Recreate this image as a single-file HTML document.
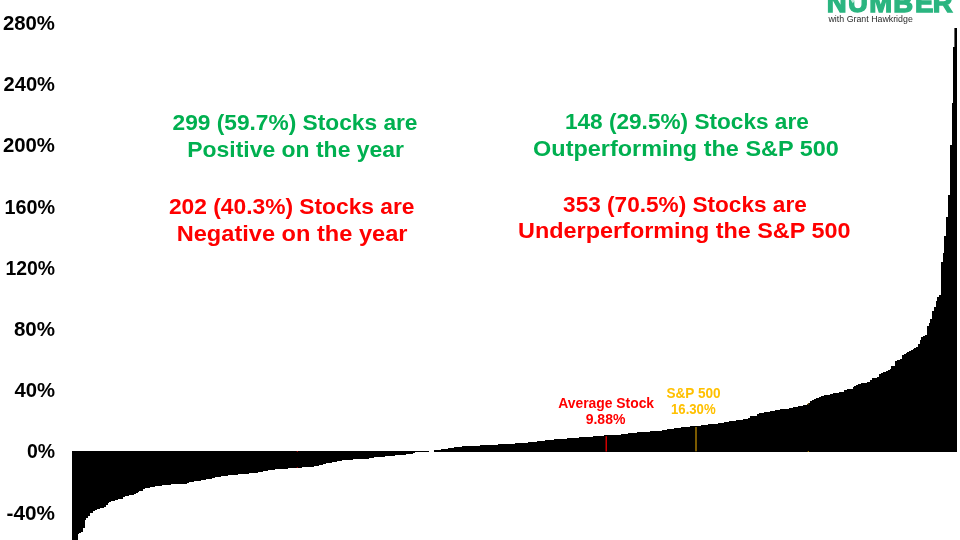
<!DOCTYPE html>
<html lang="en">
<head>
<meta charset="utf-8">
<title>S&amp;P 500 stock performance distribution</title>
<style>
html,body{margin:0;padding:0;background:#fff;}
body{width:960px;height:540px;overflow:hidden;position:relative;font-family:'Liberation Sans', sans-serif;}
svg{position:absolute;left:0;top:0;display:block;}
text{font-family:'Liberation Sans', sans-serif;font-weight:700;}
.ax{font-size:20.5px;fill:#000;}
.big{font-size:22.5px;}
.sm{font-size:14px;}
.g{fill:#00b050;}
.r{fill:#ff0000;}
.o{fill:#ffc000;}
.logo{font-size:27.5px;fill:#2bb580;stroke:#2bb580;stroke-width:1.4px;stroke-linejoin:miter;}
.sub{font-size:8.7px;font-weight:400;fill:#2a2a2a;}
</style>
</head>
<body>
<svg width="960" height="540" viewBox="0 0 960 540">
<rect x="0" y="0" width="960" height="540" fill="#fff"/>
<g id="bars" fill="#000" shape-rendering="crispEdges">
<path d="M72.20 451V541.0H73.97V541.0H75.73V541.0H77.50V533.6H79.26V532.7H81.03V532.0H82.79V528.2H84.56V520.1H86.33V518.0H88.09V515.6H89.86V513.4H91.62V513.0H93.39V511.2H95.15V509.6H96.92V509.1H98.69V508.6H100.45V508.1H102.22V507.6H103.98V507.0H105.75V504.8H107.51V502.8H109.28V501.9H111.04V501.0H112.81V500.6H114.58V500.2H116.34V499.8H118.11V499.4H119.87V499.0H121.64V498.6H123.40V497.2H125.17V496.2H126.94V495.8H128.70V495.4H130.47V495.0H132.23V494.6H134.00V493.8H135.76V493.1H137.53V492.3H139.30V491.4H141.06V490.5H142.83V488.8H144.59V488.1H146.36V487.8H148.12V487.5H149.89V487.2H151.66V486.9H153.42V486.6H155.19V486.3H156.95V486.1H158.72V485.8H160.48V485.6H162.25V485.3H164.01V485.1H165.78V484.8H167.55V484.6H169.31V484.5H171.08V484.4H172.84V484.3H174.61V484.2H176.37V484.1H178.14V484.0H179.91V483.9H181.67V483.8H183.44V483.7H185.20V483.6H186.97V483.1H188.73V482.2H190.50V481.8H192.27V481.5H194.03V481.3H195.80V481.0H197.56V480.7H199.33V480.5H201.09V480.2H202.86V479.9H204.63V479.6H206.39V479.3H208.16V479.0H209.92V478.5H211.69V478.1H213.45V477.6H215.22V477.2H216.98V476.9H218.75V476.6H220.52V476.3H222.28V476.0H224.05V475.7H225.81V475.5H227.58V475.2H229.34V475.0H231.11V474.9H232.88V474.7H234.64V474.6H236.41V474.5H238.17V474.4H239.94V474.2H241.70V474.1H243.47V474.0H245.24V473.8H247.00V473.6H248.77V473.4H250.53V473.2H252.30V473.0H254.06V472.7H255.83V472.5H257.60V472.2H259.36V472.0H261.13V471.6H262.89V471.3H264.66V471.0H266.42V470.6H268.19V470.3H269.95V470.0H271.72V469.7H273.49V469.5H275.25V469.4H277.02V469.2H278.78V469.1H280.55V469.0H282.31V468.9H284.08V468.7H285.85V468.5H287.61V468.2H289.38V468.0H291.14V467.8H292.91V467.7H294.67V467.7H296.44V467.6H298.21V467.5H299.97V467.5H301.74V467.4H303.50V467.4H305.27V467.3H307.03V467.2H308.80V467.1H310.57V466.9H312.33V466.6H314.10V466.3H315.86V466.0H317.63V465.5H319.39V465.0H321.16V464.5H322.92V464.1H324.69V463.7H326.46V463.3H328.22V463.0H329.99V462.6H331.75V462.3H333.52V461.9H335.28V461.6H337.05V461.3H338.82V460.9H340.58V460.6H342.35V460.4H344.11V460.2H345.88V460.0H347.64V459.8H349.41V459.7H351.18V459.5H352.94V459.4H354.71V459.4H356.47V459.3H358.24V459.2H360.00V459.2H361.77V459.1H363.54V459.1H365.30V459.0H367.07V458.6H368.83V458.3H370.60V458.0H372.36V457.6H374.13V457.4H375.90V457.3H377.66V457.1H379.43V457.0H381.19V456.9H382.96V456.7H384.72V456.4H386.49V456.2H388.25V455.9H390.02V455.7H391.79V455.6H393.55V455.5H395.32V455.4H397.08V455.2H398.85V455.1H400.61V455.0H402.38V454.9H404.15V454.6H405.91V454.4H407.68V454.1H409.44V453.8H411.21V453.5H412.97V453.2H414.74V452.1H416.51V452.1H418.27V452.1H420.04V452.1H421.80V452.0H423.57V452.0H425.33V452.0H427.10V452.0H428.87V451Z"/>
<path d="M434.16 452V450.3H435.93V450.1H437.69V449.8H439.46V449.6H441.22V449.3H442.99V449.1H444.76V448.8H446.52V448.5H448.29V448.3H450.05V448.0H451.82V447.7H453.58V447.4H455.35V447.2H457.12V446.9H458.88V446.7H460.65V446.5H462.41V446.4H464.18V446.3H465.94V446.2H467.71V446.1H469.48V446.1H471.24V446.0H473.01V445.9H474.77V445.8H476.54V445.7H478.30V445.5H480.07V445.4H481.84V445.2H483.60V445.1H485.37V444.9H487.13V444.8H488.90V444.7H490.66V444.7H492.43V444.6H494.19V444.5H495.96V444.5H497.73V444.4H499.49V444.3H501.26V444.3H503.02V444.2H504.79V444.1H506.55V444.1H508.32V444.0H510.09V443.8H511.85V443.7H513.62V443.5H515.38V443.4H517.15V443.2H518.91V443.1H520.68V442.9H522.45V442.8H524.21V442.6H525.98V442.5H527.74V442.3H529.51V442.2H531.27V442.1H533.04V441.9H534.81V441.7H536.57V441.4H538.34V441.2H540.10V441.0H541.87V440.8H543.63V440.6H545.40V440.3H547.16V440.1H548.93V439.9H550.70V439.8H552.46V439.6H554.23V439.4H555.99V439.3H557.76V439.1H559.52V439.0H561.29V438.8H563.06V438.7H564.82V438.5H566.59V438.4H568.35V438.2H570.12V438.1H571.88V437.9H573.65V437.8H575.42V437.6H577.18V437.5H578.95V437.4H580.71V437.3H582.48V437.1H584.24V437.0H586.01V436.9H587.78V436.8H589.54V436.6H591.31V436.5H593.07V436.4H594.84V436.3H596.60V436.2H598.37V436.0H600.13V435.9H601.90V435.6H603.67V435.4H605.43V435.2H607.20V435.2H608.96V435.1H610.73V435.1H612.49V435.1H614.26V435.0H616.03V434.9H617.79V434.7H619.56V434.5H621.32V434.3H623.09V434.1H624.85V433.9H626.62V433.6H628.39V433.4H630.15V433.2H631.92V433.0H633.68V432.8H635.45V432.6H637.21V432.4H638.98V432.2H640.75V432.0H642.51V431.8H644.28V431.7H646.04V431.6H647.81V431.5H649.57V431.4H651.34V431.3H653.10V431.2H654.87V431.1H656.64V431.0H658.40V430.8H660.17V430.5H661.93V430.2H663.70V429.9H665.46V429.6H667.23V429.3H669.00V429.0H670.76V428.8H672.53V428.5H674.29V428.3H676.06V428.0H677.82V427.8H679.59V427.5H681.36V427.3H683.12V427.0H684.89V426.9H686.65V426.7H688.42V426.6H690.18V426.4H691.95V426.3H693.72V426.1H695.48V425.9H697.25V425.7H699.01V425.5H700.78V425.2H702.54V425.0H704.31V424.7H706.08V424.5H707.84V424.4H709.61V424.3H711.37V424.2H713.14V424.1H714.90V424.0H716.67V423.7H718.43V423.3H720.20V423.0H721.97V422.6H723.73V422.3H725.50V421.9H727.26V421.7H729.03V421.4H730.79V421.2H732.56V420.9H734.33V420.7H736.09V420.4H737.86V420.2H739.62V419.9H741.39V419.5H743.15V419.2H744.92V418.8H746.69V418.5H748.45V418.1H750.22V416.2H751.98V416.1H753.75V416.0H755.51V415.8H757.28V413.5H759.05V413.2H760.81V412.9H762.58V412.6H764.34V412.3H766.11V412.0H767.87V411.7H769.64V411.4H771.40V411.0H773.17V410.6H774.94V410.2H776.70V409.8H778.47V409.6H780.23V409.4H782.00V409.3H783.76V409.1H785.53V408.9H787.30V408.8H789.06V408.3H790.83V407.9H792.59V407.4H794.36V407.0H796.12V406.6H797.89V406.2H799.66V405.9H801.42V405.5H803.19V405.1H804.95V404.7H806.72V404.0H808.48V402.6H810.25V401.2H812.02V400.0H813.78V399.1H815.55V398.1H817.31V397.5H819.08V396.9H820.84V396.4H822.61V395.9H824.37V395.4H826.14V395.0H827.91V394.6H829.67V394.1H831.44V393.7H833.20V393.2H834.97V392.9H836.73V392.6H838.50V392.3H840.27V392.0H842.03V391.7H843.80V390.3H845.56V389.5H847.33V389.2H849.09V388.9H850.86V388.5H852.63V386.6H854.39V385.5H856.16V384.9H857.92V384.3H859.69V383.9H861.45V383.4H863.22V383.0H864.99V382.5H866.75V382.1H868.52V381.7H870.28V379.7H872.05V378.2H873.81V377.9H875.58V377.5H877.34V377.2H879.11V374.4H880.88V373.4H882.64V372.4H884.41V371.5H886.17V370.5H887.94V369.7H889.70V369.0H891.47V366.2H893.24V366.1H895.00V361.4H896.77V360.4H898.53V359.7H900.30V359.2H902.06V354.5H903.83V353.6H905.60V352.7H907.36V351.7H909.13V350.8H910.89V349.8H912.66V348.9H914.42V348.0H916.19V347.1H917.96V343.8H919.72V340.0H921.49V337.3H923.25V336.3H925.02V335.3H926.78V326.3H928.55V323.2H930.31V319.4H932.08V310.9H933.85V306.7H935.61V300.8H937.38V296.5H939.14V295.0H940.91V262.0H942.67V252.5H944.44V236.0H946.21V216.5H947.97V195.0H949.74V145.0H951.50V103.0H953.27V47.0H955.03V28.0H956.80V452Z"/>
</g>
<g id="markers">
<rect x="954.4" y="28" width="2.4" height="20" fill="#000"/>
<rect x="605.5" y="436.2" width="1.5" height="15.3" fill="#d00000"/>
<rect x="695.2" y="427" width="1.6" height="24.3" fill="#9a7000"/>
<rect x="296.8" y="451" width="1" height="0.8" fill="#ff0000"/>
<rect x="296.8" y="467" width="1" height="0.8" fill="#ff0000"/>
<rect x="807.6" y="403.4" width="1" height="1" fill="#ffc000"/>
<rect x="807.8" y="451.2" width="1" height="0.8" fill="#ffc000"/>
</g>
<text class="logo" x="826.8 847.9 869.2 893.3 915.0 932.8" y="11.7">NUMBER</text>
<polygon points="850.7,0 855.3,0 852.8,3.2" fill="#fff" fill-opacity="0.7"/>
<text class="sub" x="828.5" y="21.8" textLength="84.3" lengthAdjust="spacingAndGlyphs">with Grant Hawkridge</text>
<text class="ax" x="2.9" y="29.9" textLength="52.1" lengthAdjust="spacingAndGlyphs">280%</text>
<text class="ax" x="3.6" y="91.1" textLength="51.4" lengthAdjust="spacingAndGlyphs">240%</text>
<text class="ax" x="2.9" y="152.3" textLength="52.1" lengthAdjust="spacingAndGlyphs">200%</text>
<text class="ax" x="4.4" y="213.5" textLength="50.6" lengthAdjust="spacingAndGlyphs">160%</text>
<text class="ax" x="5.4" y="274.7" textLength="49.6" lengthAdjust="spacingAndGlyphs">120%</text>
<text class="ax" x="13.9" y="335.9" textLength="41.1" lengthAdjust="spacingAndGlyphs">80%</text>
<text class="ax" x="14.4" y="397.1" textLength="40.6" lengthAdjust="spacingAndGlyphs">40%</text>
<text class="ax" x="26.9" y="458.3" textLength="28.1" lengthAdjust="spacingAndGlyphs">0%</text>
<text class="ax" x="6.6" y="519.5" textLength="48.4" lengthAdjust="spacingAndGlyphs">-40%</text>
<text class="big g" x="172.5" y="130" textLength="245" lengthAdjust="spacingAndGlyphs">299 (59.7%) Stocks are</text>
<text class="big g" x="187.2" y="156.6" textLength="216.8" lengthAdjust="spacingAndGlyphs">Positive on the year</text>
<text class="big r" x="168.9" y="214" textLength="245.65" lengthAdjust="spacingAndGlyphs">202 (40.3%) Stocks are</text>
<text class="big r" x="176.7" y="241" textLength="230.8" lengthAdjust="spacingAndGlyphs">Negative on the year</text>
<text class="big g" x="564.95" y="129.1" textLength="243.85" lengthAdjust="spacingAndGlyphs">148 (29.5%) Stocks are</text>
<text class="big g" x="533.1" y="155.9" textLength="305.7" lengthAdjust="spacingAndGlyphs">Outperforming the S&amp;P 500</text>
<text class="big r" x="563.1" y="211.5" textLength="243.7" lengthAdjust="spacingAndGlyphs">353 (70.5%) Stocks are</text>
<text class="big r" x="518.1" y="237.75" textLength="332.4" lengthAdjust="spacingAndGlyphs">Underperforming the S&amp;P 500</text>
<text class="sm r" x="558.2" y="407.5" textLength="95.9" lengthAdjust="spacingAndGlyphs">Average Stock</text>
<text class="sm r" x="585.7" y="423.5" textLength="39.7" lengthAdjust="spacingAndGlyphs">9.88%</text>
<text class="sm o" x="666.4" y="398.2" textLength="54.2" lengthAdjust="spacingAndGlyphs">S&amp;P 500</text>
<text class="sm o" x="671" y="413.8" textLength="44.6" lengthAdjust="spacingAndGlyphs">16.30%</text>
</svg>
</body>
</html>
